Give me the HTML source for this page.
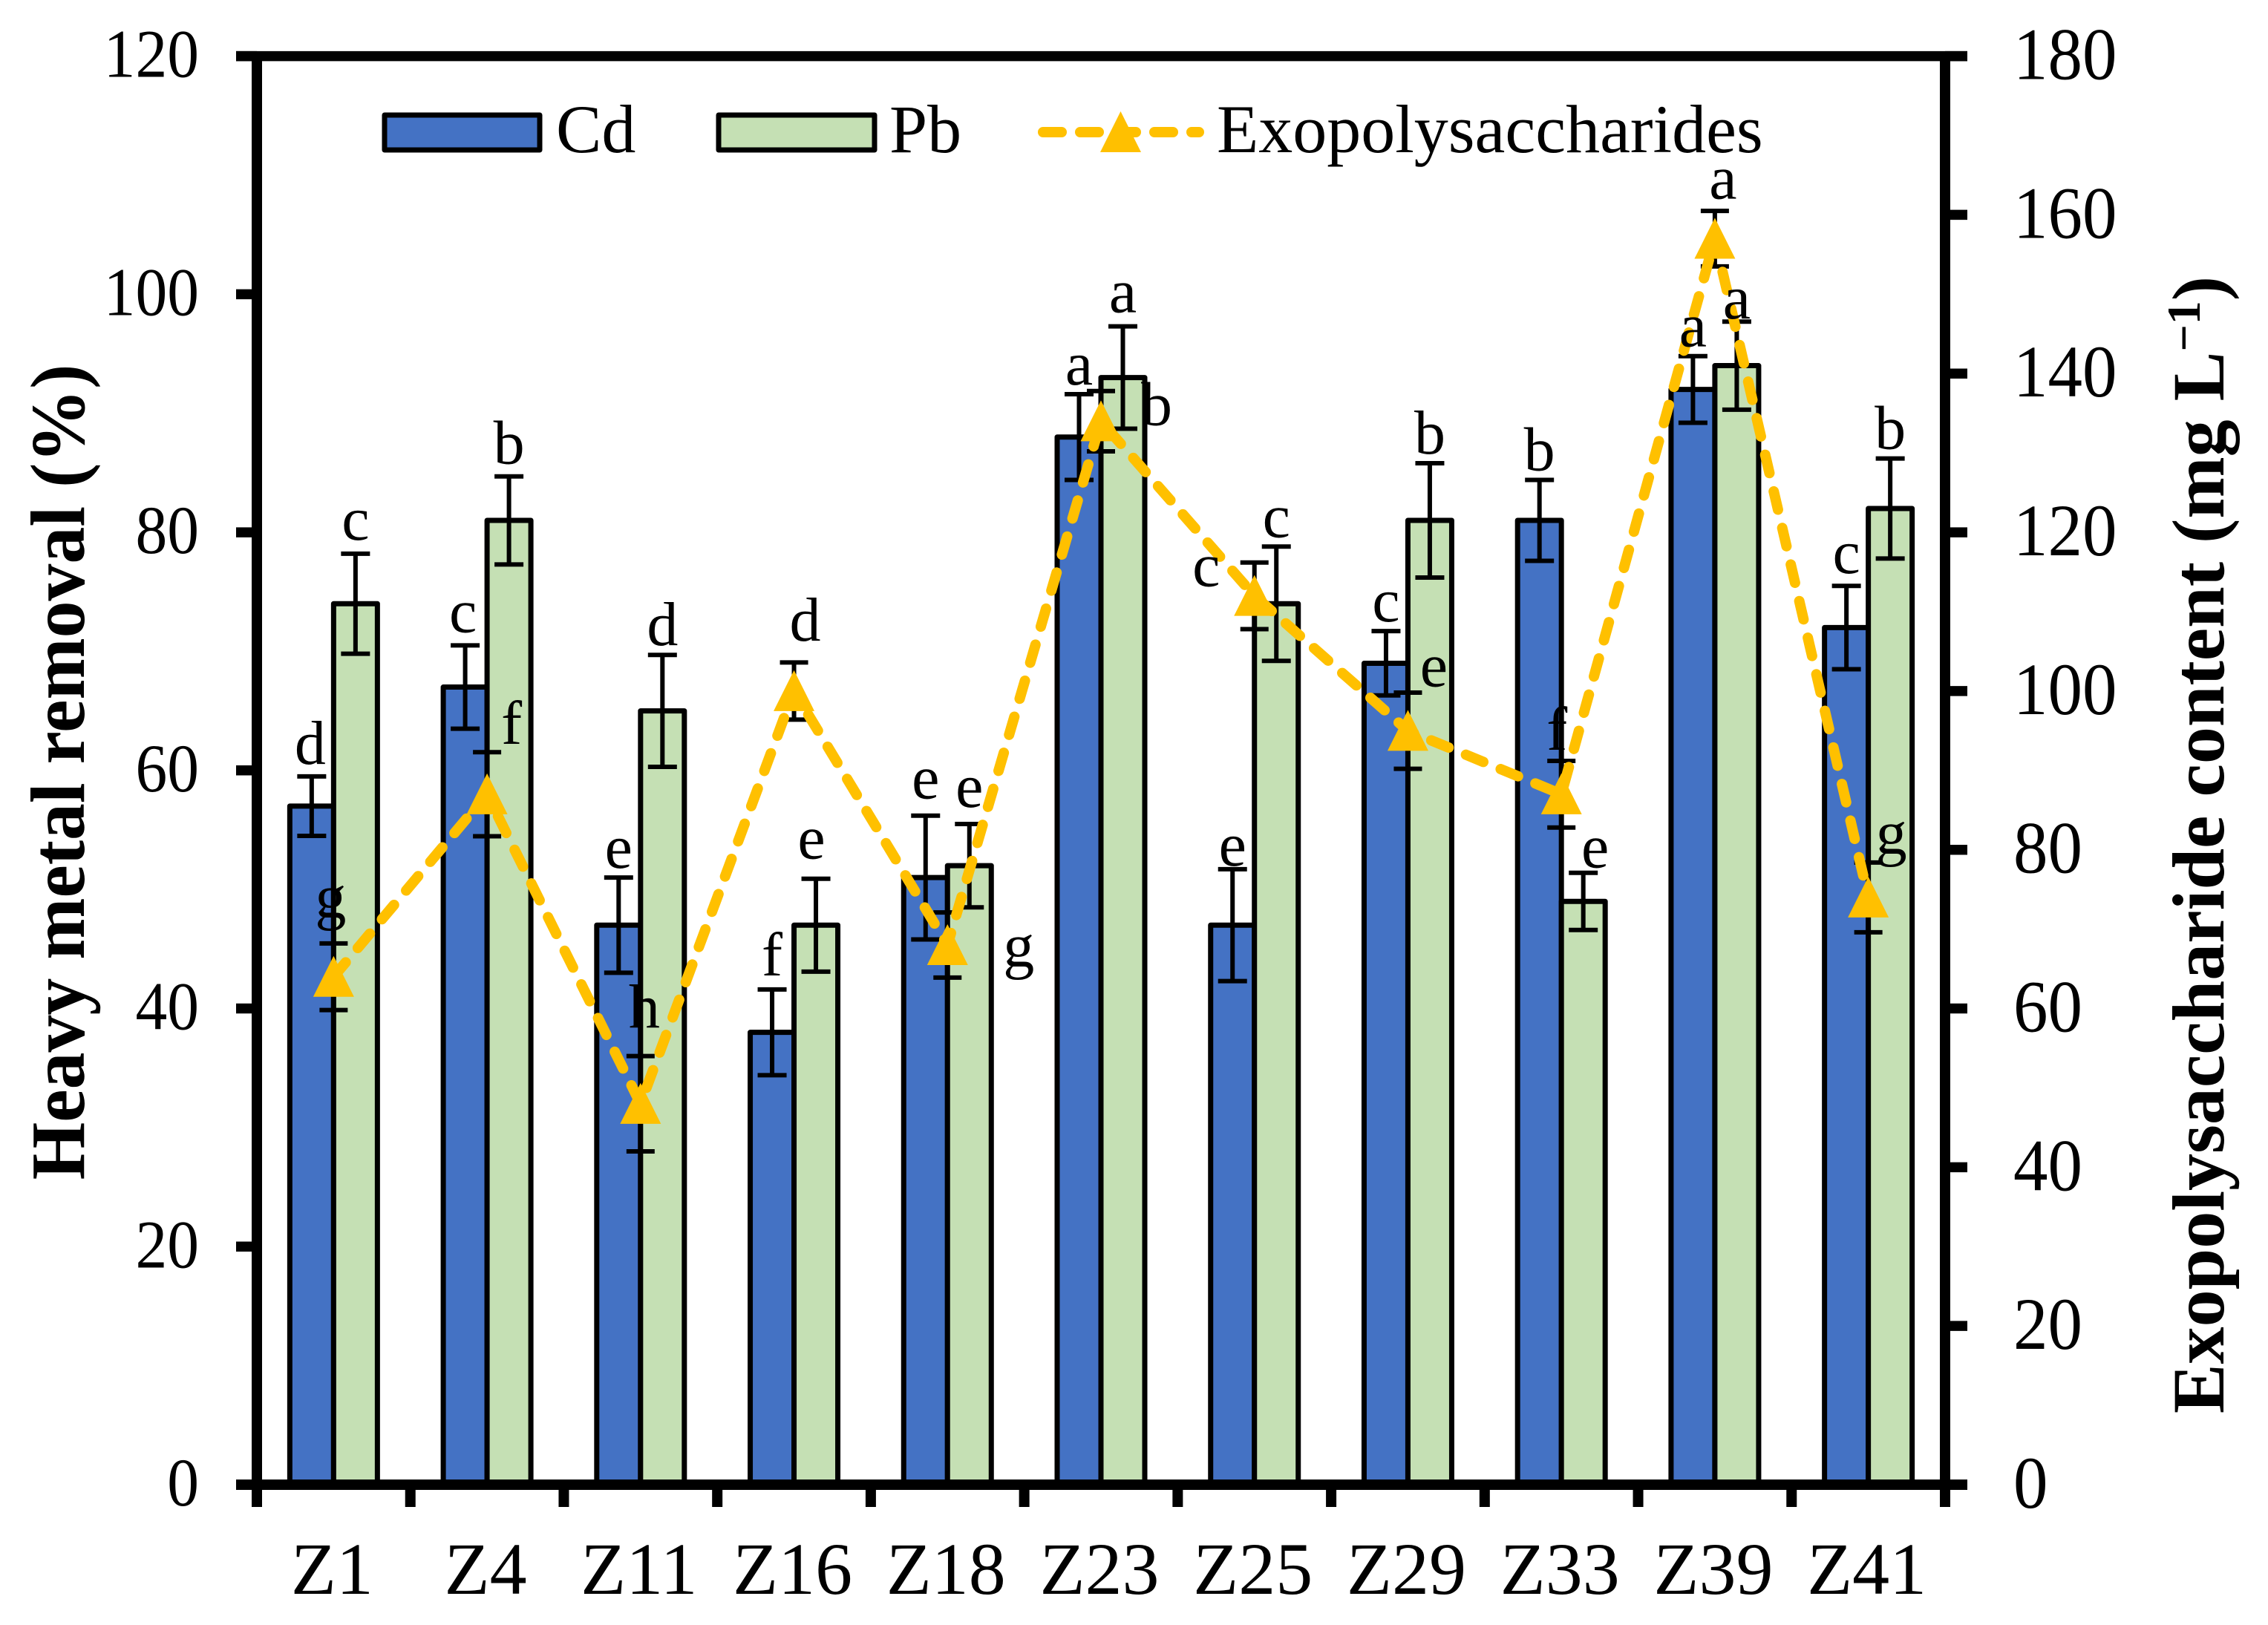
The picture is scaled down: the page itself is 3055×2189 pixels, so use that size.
<!DOCTYPE html>
<html>
<head>
<meta charset="utf-8">
<title>Heavy metal removal and exopolysaccharide content</title>
<style>
html,body{margin:0;padding:0;background:#fff;}
svg{display:block;font-family:"Liberation Serif",serif;}
</style>
</head>
<body>
<svg id="chart" width="3055" height="2189" viewBox="0 0 3055 2189" xmlns="http://www.w3.org/2000/svg">
<rect x="0" y="0" width="3055" height="2189" fill="#ffffff"/>
</svg>
<script>
const categories = ['Z1','Z4','Z11','Z16','Z18','Z23','Z25','Z29','Z33','Z39','Z41'];
const cdValues = [57,67,47,38,51,88,47,69,81,92,72];
const pbValues = [74,81,65,47,52,93,74,81,49,94,82];
const epsValues = [64,87,48,100,68,134,112,95,87,157,74];
const cdErrors = [2.5,3.5,4,3.6,5.2,3.6,4.7,2.7,3.4,2.8,3.5];
const pbErrors = [4.2,3.7,4.7,3.9,3.5,4.3,4.8,4.8,2.4,3.7,4.2];
const epsErrors = [4.2,5.3,6,3.6,4.1,3.8,4.2,4.8,4.2,3.5,4.4];
const cdLetters = ['d','c','e','f','e','a','e','c','b','a','c'];
const pbLetters = ['c','b','d','e','e','a','c','b','e','a','b'];
const epsLetters = ['g','f','h','d','g','b','c','e','f','a','g'];
const leftTicks = [0,20,40,60,80,100,120];
const rightTicks = [0,20,40,60,80,100,120,140,160,180];

const NS = 'http://www.w3.org/2000/svg';
const svg = document.getElementById('chart');
const AX = {left:346, right:2620, top:75.6, bottom:2000, tickL:318, tickR:2650};
const LEFT_MAX = 120, RIGHT_MAX = 180;
const BLUE = '#4472C4', GREEN = '#C5E0B4', ORANGE = '#FFC000';
const BAR_W = 59;
const TICK_SQUEEZE = 0.93;

function yL(v){ return AX.bottom - (AX.bottom - AX.top) * v / LEFT_MAX; }
function yR(v){ return AX.bottom - (AX.bottom - AX.top) * v / RIGHT_MAX; }
function xC(i){ return AX.left + (AX.right - AX.left) * (i + 0.5) / categories.length; }

function mk(tag, props, parent){
  const el = document.createElementNS(NS, tag);
  for (const k in props) el.setAttribute(k, props[k]);
  (parent || svg).appendChild(el);
  return el;
}
function line(x1, y1, x2, y2, w, parent){
  return mk('line', {x1:x1, y1:y1, x2:x2, y2:y2, stroke:'#000', 'stroke-width':w}, parent);
}
function label(str, x, y, size, anchor, parent){
  const t = mk('text', {x:x, y:y, 'font-size':size, 'text-anchor':anchor, fill:'#000'}, parent);
  t.textContent = str;
  return t;
}
function squeezedLabel(str, x, y, size, anchor){
  const t = mk('text', {transform:'translate(' + x + ' ' + y + ') scale(' + TICK_SQUEEZE + ' 1)', 'font-size':size, 'text-anchor':anchor, fill:'#000'});
  t.textContent = str;
  return t;
}

/* ---------- bars ---------- */
function drawBars(values, dx, fill, series){
  values.forEach(function(v, i){
    const b = mk('rect', {x:xC(i) + dx - BAR_W / 2, y:yL(v), width:BAR_W, height:AX.bottom - yL(v), fill:fill, stroke:'#000', 'stroke-width':7, 'stroke-linejoin':'round'});
    
    
  });
}
drawBars(cdValues, -BAR_W / 2, BLUE, 'cd');
drawBars(pbValues, BAR_W / 2, GREEN, 'pb');

/* ---------- error bars ---------- */
function drawError(x, yTop, yBot, capW, name){
  const g = mk('g', {});
  
  
  line(x, yTop, x, yBot, 6, g);
  line(x - capW / 2, yTop, x + capW / 2, yTop, 6, g);
  line(x - capW / 2, yBot, x + capW / 2, yBot, 6, g);
}
categories.forEach(function(c, i){
  drawError(xC(i) - BAR_W / 2, yL(cdValues[i] + cdErrors[i]), yL(cdValues[i] - cdErrors[i]), 39, 'error-bar-cd-' + c);
  drawError(xC(i) + BAR_W / 2, yL(pbValues[i] + pbErrors[i]), yL(pbValues[i] - pbErrors[i]), 39, 'error-bar-pb-' + c);
  drawError(xC(i), yR(epsValues[i] + epsErrors[i]), yR(epsValues[i] - epsErrors[i]), 38, 'error-bar-eps-' + c);
});

/* ---------- axes ---------- */
const axisGroup = mk('g', {});


line(AX.left, AX.top, AX.left, AX.bottom + 7, 14, axisGroup);
line(AX.right, AX.top, AX.right, AX.bottom + 7, 14, axisGroup);
line(AX.tickL, AX.top, AX.tickR, AX.top, 13.5, axisGroup);
line(AX.tickL, AX.bottom, AX.tickR, AX.bottom, 14, axisGroup);

leftTicks.forEach(function(v){
  line(AX.tickL, yL(v), AX.left, yL(v), 13.5, axisGroup);
  const t = squeezedLabel(String(v), 268, yL(v) + 28, 92, 'end');
  
  
});
rightTicks.forEach(function(v){
  line(AX.right, yR(v), AX.tickR, yR(v), 13.5, axisGroup);
  const t = squeezedLabel(String(v), 2712, yR(v) + 31, 100, 'start');
  
  
});
for (let i = 0; i <= categories.length; i++){
  const x = AX.left + (AX.right - AX.left) * i / categories.length;
  line(x, AX.bottom, x, 2030, 14, axisGroup);
}
categories.forEach(function(c, i){
  const t = label(c, xC(i) - 2, 2147, 100, 'middle');
  
  
});

/* ---------- exopolysaccharide line ---------- */
const epsPoints = epsValues.map(function(v, i){ return xC(i) + ',' + yR(v); }).join(' ');
const epsLine = mk('polyline', {points:epsPoints, fill:'none', stroke:ORANGE, 'stroke-width':14, 'stroke-linecap':'round', 'stroke-linejoin':'round', 'stroke-dasharray':'25.3 25.3'});



function triangle(cx, cy, parent){
  const pts = [cx + ',' + (cy - 28), (cx + 27.5) + ',' + (cy + 27), (cx - 27.5) + ',' + (cy + 27)].join(' ');
  return mk('polygon', {points:pts, fill:ORANGE}, parent);
}
epsValues.forEach(function(v, i){
  const m = triangle(xC(i), yR(v));
  
  
});

/* ---------- significance letters ---------- */
const LETTER = 84;
function cdLetterNudge(c){
  switch (c){
    case 'Z1': return [-2,-4];
    case 'Z4': return [-3,-5];
    case 'Z16': return [0,-6];
    case 'Z18': return [0,-10];
    case 'Z25': return [0,8];
    case 'Z41': return [0,-4];
    default: return [0,0];
  }
}
function pbLetterNudge(c){
  switch (c){
    case 'Z1': return [0,-6];
    case 'Z4': return [0,-4];
    case 'Z16': return [-6,-14];
    case 'Z18': return [0,-10];
    case 'Z23': return [0,-6];
    case 'Z33': return [16,6];
    case 'Z39': return [0,9];
    default: return [0,0];
  }
}
cdLetters.forEach(function(s, i){
  const off = cdLetterNudge(categories[i]);
  const t = label(s, xC(i) - BAR_W / 2 + off[0], yL(cdValues[i] + cdErrors[i]) - 13 + off[1], LETTER, 'middle');
  
  
});
pbLetters.forEach(function(s, i){
  const off = pbLetterNudge(categories[i]);
  const t = label(s, xC(i) + BAR_W / 2 + off[0], yL(pbValues[i] + pbErrors[i]) - 13 + off[1], LETTER, 'middle');
  
  
});
function epsLetterShift(c){
  switch (c){
    case 'Z1': return [-4,-80];
    case 'Z4': return [33,-68];
    case 'Z11': return [5,-103];
    case 'Z16': return [15,-68];
    case 'Z18': return [96,29];
    case 'Z23': return [75,5];
    case 'Z25': return [-65,-13];
    case 'Z29': return [35,-60];
    case 'Z33': return [-6,-60];
    case 'Z39': return [11,-54];
    default: return [31,-59];
  }
}
epsLetters.forEach(function(s, i){
  const off = epsLetterShift(categories[i]);
  const t = label(s, xC(i) + off[0], yR(epsValues[i]) + off[1], LETTER, 'middle');
  
  
});

/* ---------- axis titles ---------- */
const yTitle = mk('text', {transform:'translate(113 1040) rotate(-90) scale(0.96 1)', 'font-size':104, 'font-weight':'bold', 'text-anchor':'middle', fill:'#000'});
yTitle.textContent = 'Heavy metal removal (%)';



const y2Title = mk('text', {transform:'translate(2995 1138) rotate(-90)', 'font-size':100, 'font-weight':'bold', 'text-anchor':'middle', fill:'#000'});


const y2a = mk('tspan', {}, y2Title);
y2a.textContent = 'Exopolysaccharide content (mg L';
const y2b = mk('tspan', {dy:-32, 'font-size':64}, y2Title);
y2b.textContent = '\u22121';
const y2c = mk('tspan', {dy:32}, y2Title);
y2c.textContent = ')';

/* ---------- legend ---------- */
const legend = mk('g', {});



const cdSwatch = mk('rect', {x:518, y:155, width:209, height:47, fill:BLUE, stroke:'#000', 'stroke-width':7, 'stroke-linejoin':'round'}, legend);


const cdLabel = label('Cd', 749, 205, 92, 'start', legend);



const pbSwatch = mk('rect', {x:968, y:155, width:210, height:47, fill:GREEN, stroke:'#000', 'stroke-width':7, 'stroke-linejoin':'round'}, legend);


const pbLabel = label('Pb', 1198, 205, 92, 'start', legend);



const epsSwatch = mk('line', {x1:1405, y1:178, x2:1615, y2:178, stroke:ORANGE, 'stroke-width':14, 'stroke-linecap':'round', 'stroke-dasharray':'25 25'}, legend);


const epsSwatchMarker = triangle(1509.5, 178, legend);


const epsLabel = label('Exopolysaccharides', 1639, 205, 92, 'start', legend);


</script>
</body>
</html>
